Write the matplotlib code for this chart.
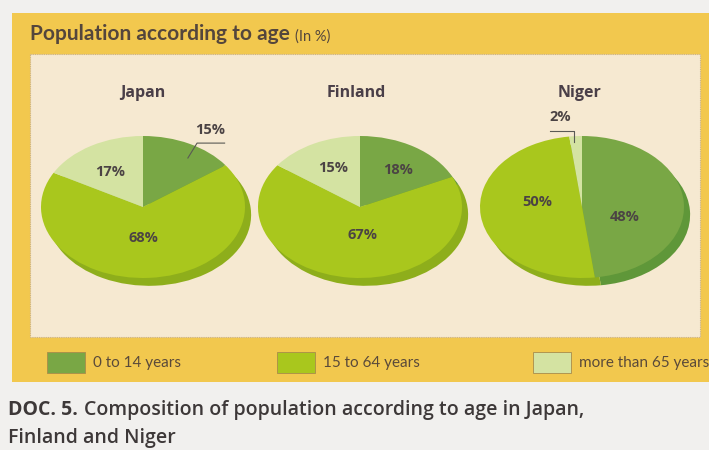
import matplotlib
matplotlib.use("Agg")
import matplotlib.pyplot as plt
from matplotlib.patches import Rectangle

# data
countries = ["Japan", "Finland", "Niger"]
age_groups = ["0 to 14 years", "15 to 64 years", "more than 65 years"]
japan = [15, 68, 17]
finland = [18, 67, 15]
niger = [48, 50, 2]
shares = [japan, finland, niger]

# colours
top_cols = ["#79a745", "#a9c71d", "#d4e3a2"]
side_cols = ["#5f9739", "#8eae1b", "#b9cf80"]
yellow = "#f2c84e"
beige = "#f6e9d1"
text_col = "#4b4344"

W, H = 709, 450
fig = plt.figure(figsize=(W / 100, H / 100), dpi=100)
fig.patch.set_facecolor("#f1f0ee")
bg = fig.add_axes([0, 0, 1, 1])
bg.set_xlim(0, W)
bg.set_ylim(H, 0)
bg.axis("off")

# yellow panel and inner box
bg.add_patch(Rectangle((12, 13), W - 12, 369, facecolor=yellow, edgecolor="none"))
bg.add_patch(Rectangle((30, 54), 670, 283, facecolor=beige, edgecolor="#c9b18a",
                       linewidth=0.8, linestyle=(0, (1, 1))))

t = bg.text(30, 40, "Population according to age", fontsize=15, fontweight="bold",
            color="#54463c", family="Lato")
bg.annotate("(In %)", xy=(1, 0), xycoords=t, xytext=(4, 0), textcoords="offset points",
            va="bottom", fontsize=10.5, color="#54463c", family="Lato")

# pies
centres = [(143, 207), (360, 207), (582, 207)]
title_x = [143, 356, 580]
rx, ry = 102, 71
dx, dy = 0.06, 0.11   # depth of the 3d edge
label_xy = [
    [(0.66, 1.08), (0.0, -0.44), (-0.32, 0.49)],
    [(0.37, 0.52), (0.02, -0.39), (-0.26, 0.55)],
    [(0.42, -0.14), (-0.44, 0.07), (-0.21, 1.27)],
]
leaders = {
    0: [(0.44, 0.69), (0.53, 0.90), (0.80, 0.90)],
    2: [(-0.31, 1.07), (-0.08, 1.07), (-0.08, 0.92)],
}

for k, (name, vals) in enumerate(zip(countries, shares)):
    cx, cy = centres[k]
    left = (cx - rx) / W
    bottom = (H - (cy + ry + dy * ry)) / H
    ax = fig.add_axes([left, bottom, (2 + dx) * rx / W, (2 + dy) * ry / H])
    ax.pie(vals, colors=side_cols, startangle=90, counterclock=False,
           center=(dx, -dy), wedgeprops=dict(linewidth=0))
    ax.pie(vals, colors=top_cols, startangle=90, counterclock=False,
           wedgeprops=dict(linewidth=0))
    ax.set_aspect("auto")
    ax.set_xlim(-1, 1 + dx)
    ax.set_ylim(-1 - dy, 1)
    ax.axis("off")
    for v, (lx, ly) in zip(vals, label_xy[k]):
        ax.text(lx, ly, f"{v}%", ha="center", va="center", fontsize=10.5,
                fontweight="bold", color=text_col, family="Open Sans")
    if k in leaders:
        xs, ys = zip(*leaders[k])
        ax.plot(xs, ys, color="#5a5a55", linewidth=0.8, clip_on=False)
    bg.text(title_x[k], 93, name, ha="center", va="center", fontsize=11.5,
            fontweight="bold", color="#4a3f48", family="Open Sans")

# legend
legend_x = [47, 277, 533]
for x0, lab, c in zip(legend_x, age_groups, top_cols):
    bg.add_patch(Rectangle((x0, 352), 38, 21, facecolor=c, edgecolor="#a88c4a",
                           linewidth=0.6))
    bg.text(x0 + 46, 363, lab, va="center", fontsize=11, color="#5a4a3a",
            family="Lato")

# caption
bg.text(8, 415, "DOC. 5.", fontsize=14, fontweight="bold", color="#3d3838",
        family="Open Sans")
bg.text(84, 415, "Composition of population according to age in Japan,",
        fontsize=14, fontweight="semibold", color="#3d3838", family="Open Sans")
bg.text(8, 443, "Finland and Niger", fontsize=14, fontweight="semibold",
        color="#3d3838", family="Open Sans")

fig.savefig("out.png", dpi=100, facecolor=fig.get_facecolor())
